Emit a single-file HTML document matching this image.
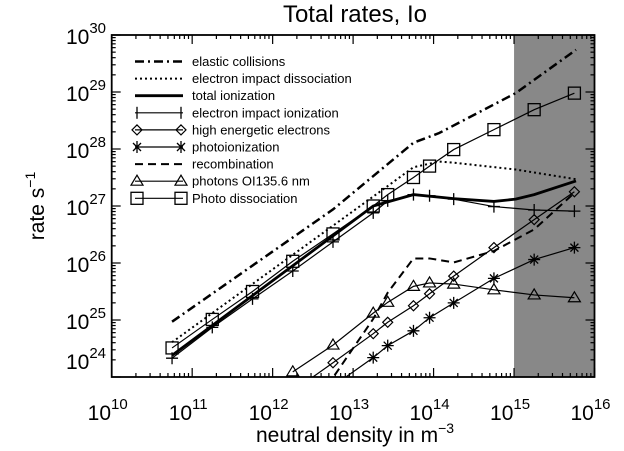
<!DOCTYPE html>
<html><head><meta charset="utf-8"><style>
html,body{margin:0;padding:0;background:#fff;overflow:hidden;width:624px;height:451px;}
svg{display:block;}
svg text{font-family:"Liberation Sans",sans-serif;fill:#000;}
</style></head><body>
<svg id="chart" width="624" height="451" viewBox="0 0 624 451" xmlns="http://www.w3.org/2000/svg">
<text x="355" y="22" font-size="24" text-anchor="middle">Total rates, Io</text>
<text x="355" y="442" font-size="21" text-anchor="middle">neutral density in m<tspan font-size="14" dy="-9">−3</tspan></text>
<text transform="translate(44,206) rotate(-90)" font-size="21" text-anchor="middle">rate s<tspan font-size="14" dy="-9">−1</tspan></text>
<g id="plot"></g>
</svg>
<script>
const xTicks=[10,11,12,13,14,15,16];
const yTicks=[30,29,28,27,26,25,24];
const xs=[10.75,11.25,11.75,12.25,12.75,13.25,13.43,13.75,13.95,14.25,14.75,15.25,15.75];
const photoDiss=[24.51,25.01,25.50,26.03,26.51,27.0,27.20,27.50,27.70,27.99,28.34,28.69,28.98];
const eii=[24.33,24.87,25.37,25.86,26.37,26.88,27.09,27.20,27.18,27.12,26.99,26.93,26.91];
const xsLow=[12.25,12.75,13.25,13.43,13.75,13.95,14.25,14.75,15.25,15.75];
const highE=[23.75,24.25,24.76,24.96,25.25,25.46,25.77,26.27,26.76,27.25];
const photoIon=[23.3,23.84,24.34,24.55,24.81,25.04,25.30,25.73,26.06,26.27];
const photons=[24.09,24.56,25.12,25.31,25.59,25.65,25.63,25.53,25.44,25.39];
const elasticX=[10.75,12.75,13.75,14.07,15.02,15.77];
const elastic=[24.97,26.94,28.11,28.28,28.98,29.74];
const eidX=[10.75,13.43,13.75,14.07,14.25,15.02,15.77];
const eid=[24.61,27.35,27.68,27.78,27.76,27.64,27.47];
const totX=[10.75,13.25,13.75,14.25,14.75,15.02,15.25,15.77];
const totIon=[24.38,27.0,27.2,27.13,27.08,27.12,27.2,27.44];
const recX=[12.77,13.25,13.43,13.75,13.95,14.25,14.75,15.25,15.75];
const recomb=[24.03,25.02,25.48,26.08,26.08,26.01,26.21,26.59,27.23];

const L=111.7,R=594.5,T=35,B=377,DX=80.47,DY=57;
const X=v=>L+(v-10)*DX, Y=v=>T+(30-v)*DY;
const NS='http://www.w3.org/2000/svg';
const g=document.getElementById('plot');
function mk(t,a,p){const e=document.createElementNS(NS,t);for(const k in a)e.setAttribute(k,a[k]);(p||g).appendChild(e);return e;}
const defs=mk('defs',{});const cp=mk('clipPath',{id:'c'},defs);mk('rect',{x:L,y:T,width:R-L,height:B-T},cp);
let shade=mk('rect',{x:X(15),y:T,width:R-X(15),height:B-T,fill:'#888'});


const cg=mk('g',{'clip-path':'url(#c)'});
function line(xa,ya,name,w,dash){const p=mk('polyline',{points:xa.map((x,i)=>X(x)+','+Y(ya[i])).join(' '),fill:'none',stroke:'#000','stroke-width':w,'stroke-dasharray':dash||''},cg);

}
function marks(xa,ya,type,name){ya.forEach((v,i)=>{const x=X(xa[i]),y=Y(v);let e;
 if(type==='sq')e=mk('rect',{x:x-6,y:y-6,width:12,height:12,fill:'none',stroke:'#000','stroke-width':1.3},cg);
 else if(type==='di')e=mk('polygon',{points:`${x},${y-5} ${x+5},${y} ${x},${y+5} ${x-5},${y}`,fill:'none',stroke:'#000','stroke-width':1.2},cg);
 else if(type==='tr')e=mk('polygon',{points:`${x},${y-6} ${x+6},${y+4} ${x-6},${y+4}`,fill:'none',stroke:'#000','stroke-width':1.2},cg);
 else if(type==='pl')e=mk('path',{d:`M${x-6},${y}H${x+6}M${x},${y-6}V${y+6}`,stroke:'#000','stroke-width':1.3},cg);
 else e=mk('path',{d:`M${x-6},${y}H${x+6}M${x},${y-6}V${y+6}M${x-4},${y-4}L${x+4},${y+4}M${x-4},${y+4}L${x+4},${y-4}`,stroke:'#000','stroke-width':1.3},cg);
 
 });}
line(elasticX,elastic,'elastic-collisions-line',2.5,'9,4,2,4');
line(eidX,eid,'electron-impact-dissociation-line',2,'2,3');
line(totX,totIon,'total-ionization-line',2.8);
line(xs,eii,'electron-impact-ionization-line',1.2);marks(xs,eii,'pl','eii-marker');
line(xs,photoDiss,'photo-dissociation-line',1.2);marks(xs,photoDiss,'sq','photo-dissociation-marker');
line(xsLow,highE,'high-energetic-electrons-line',1.2);marks(xsLow,highE,'di','high-energetic-marker');
line(xsLow,photoIon,'photoionization-line',1.2);marks(xsLow,photoIon,'st','photoionization-marker');
line(xsLow,photons,'photons-line',1.2);marks(xsLow,photons,'tr','photons-marker');
line(recX,recomb,'recombination-line',2,'8,5');
let fr=mk('rect',{x:L,y:T,width:R-L,height:B-T,fill:'none',stroke:'#000','stroke-width':1.8});


xTicks.forEach(t=>{for(let m=1;m<10;m++){const v=t+Math.log10(m);if(v>16.001)break;const x=X(v),len=m===1?9:4;
 mk('line',{x1:x,y1:B,x2:x,y2:B-len,stroke:'#000','stroke-width':1.2});mk('line',{x1:x,y1:T,x2:x,y2:T+len,stroke:'#000','stroke-width':1.2});}
 const tx=mk('text',{x:X(t)-4,y:420,'font-size':21,'text-anchor':'middle'});tx.innerHTML='10<tspan font-size="15" dy="-11">'+t+'</tspan>';
 
 });
yTicks.forEach(t=>{for(let m=1;m<10;m++){const v=t+Math.log10(m);if(v>30.001)break;const y=Y(v),len=m===1?9:4;
 mk('line',{x1:L,y1:y,x2:L+len,y2:y,stroke:'#000','stroke-width':1.2});mk('line',{x1:R,y1:y,x2:R-len,y2:y,stroke:'#000','stroke-width':1.2});}
 const yy=t===24?Y(24.3):Y(t);
 const tx=mk('text',{x:106,y:yy+9,'font-size':21,'text-anchor':'end'});tx.innerHTML='10<tspan font-size="15" dy="-11">'+t+'</tspan>';
 
 });
const legNames=['elastic collisions','electron impact dissociation','total ionization','electron impact ionization','high energetic electrons','photoionization','recombination','photons OI135.6 nm','Photo dissociation'];
const legStyle=[['9,4,2,4',2.5,''],['2,3',2,''],['',2.8,''],['',1.2,'pl'],['',1.2,'di'],['',1.2,'st'],['8,5',2,''],['',1.2,'tr'],['',1.2,'sq']];
legNames.forEach((n,i)=>{const y=61.5+i*17.1;
 mk('line',{x1:135,y1:y,x2:183,y2:y,stroke:'#000','stroke-width':legStyle[i][1],'stroke-dasharray':legStyle[i][0]});
 const tx=mk('text',{x:192,y:y+4.5,'font-size':13});tx.textContent=n;
 
 });
legStyle.forEach((s,i)=>{if(!s[2])return;const y=61.5+i*17.1;[137,181].forEach(x=>{let e;
 if(s[2]==='sq')e=mk('rect',{x:x-6,y:y-6,width:12,height:12,fill:'none',stroke:'#000','stroke-width':1.3});
 else if(s[2]==='di')e=mk('polygon',{points:`${x},${y-5} ${x+5},${y} ${x},${y+5} ${x-5},${y}`,fill:'none',stroke:'#000','stroke-width':1.2});
 else if(s[2]==='tr')e=mk('polygon',{points:`${x},${y-6} ${x+6},${y+4} ${x-6},${y+4}`,fill:'none',stroke:'#000','stroke-width':1.2});
 else if(s[2]==='pl')e=mk('path',{d:`M${x},${y-6}V${y+6}`,stroke:'#000','stroke-width':1.3});
 else e=mk('path',{d:`M${x},${y-6}V${y+6}M${x-4},${y-4}L${x+4},${y+4}M${x-4},${y+4}L${x+4},${y-4}`,stroke:'#000','stroke-width':1.3});
 
 });});
</script>
</body></html>
